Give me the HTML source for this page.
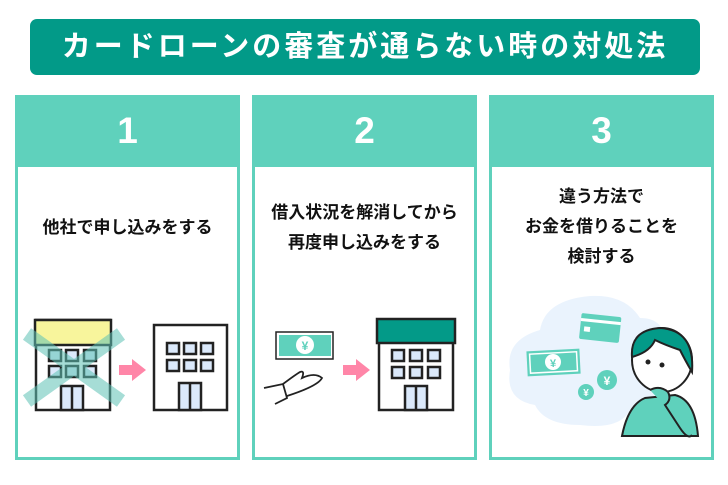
<!DOCTYPE html>
<html><head><meta charset="utf-8"><style>
body{margin:0;width:728px;height:485px;background:#fff;position:relative;overflow:hidden;font-family:"Liberation Sans","Noto Sans CJK JP",sans-serif}
.title{position:absolute;left:30px;top:19px;width:670px;height:56px;background:#029a88;border-radius:7px;color:#fff;font-weight:bold;font-size:29px;text-align:center;line-height:56px;letter-spacing:3px}
.p{position:absolute;top:95px;width:219px;height:362px;border:3px solid #5fd1bc;border-top:none}
.h{position:absolute;left:-3px;top:0;width:225px;height:72px;background:#5fd1bc;color:#fff;font-weight:bold;font-size:37px;text-align:center;line-height:72px}
.t{position:absolute;left:0;width:219px;text-align:center;font-weight:bold;font-size:17px;line-height:30px;color:#111}
</style></head><body>
<div class="title">カードローンの審査が通らない時の対処法</div>
<div class="p" style="left:15px"><div class="h">1</div><div class="t" style="top:118px">他社で申し込みをする</div></div>
<div class="p" style="left:252px"><div class="h">2</div><div class="t" style="top:103px">借入状況を解消してから<br>再度申し込みをする</div></div>
<div class="p" style="left:489px"><div class="h">3</div><div class="t" style="top:87px">違う方法で<br>お金を借りることを<br>検討する</div></div>
<svg width="728" height="485" style="position:absolute;left:0;top:0">
<g stroke="#222" stroke-width="2.5" fill="#dbe9fb">
<rect x="36" y="320" width="74" height="90" fill="#fff"/>
<rect x="35" y="320" width="76" height="25" fill="#f8f59c"/>
<g><rect x="49" y="350" width="12" height="11"/><rect x="66" y="350" width="12" height="11"/><rect x="84" y="350" width="12" height="11"/><rect x="49" y="366" width="12" height="11"/><rect x="66" y="366" width="12" height="11"/><rect x="84" y="366" width="12" height="11"/></g>
<rect x="61" y="386" width="22" height="24"/><line x1="72" y1="386" x2="72" y2="410"/>
<rect x="154" y="325" width="73" height="85" fill="#fff"/>
<g><rect x="167" y="343" width="12" height="11"/><rect x="184" y="343" width="12" height="11"/><rect x="201" y="343" width="12" height="11"/><rect x="167" y="360" width="12" height="11"/><rect x="184" y="360" width="12" height="11"/><rect x="201" y="360" width="12" height="11"/></g>
<rect x="179" y="383" width="22" height="27"/><line x1="190" y1="383" x2="190" y2="410"/>
<rect x="379" y="320" width="74" height="90" fill="#fff"/>
<rect x="377" y="319" width="78" height="24" fill="#039a88"/>
<g><rect x="392" y="350" width="12" height="11"/><rect x="410" y="350" width="12" height="11"/><rect x="428" y="350" width="12" height="11"/><rect x="392" y="367" width="12" height="11"/><rect x="410" y="367" width="12" height="11"/><rect x="428" y="367" width="12" height="11"/></g>
<rect x="405" y="386" width="22" height="24"/><line x1="416" y1="386" x2="416" y2="410"/>
</g>
<g stroke="#5fc3b6" stroke-width="14" opacity="0.55"><line x1="27" y1="334" x2="121" y2="401"/><line x1="121" y1="334" x2="27" y2="401"/></g>
<polygon points="119,365 132,365 132,359 146,370 132,381 132,375 119,375" fill="#ff86a8"/>
<polygon points="343,365 356,365 356,359 370,370 356,381 356,375 343,375" fill="#ff86a8"/>
<rect x="276" y="332" width="57" height="27" fill="#fff" stroke="#222" stroke-width="1.5"/>
<rect x="279" y="335" width="52" height="21" fill="#5fd1bc"/>
<circle cx="305" cy="345" r="9" fill="#fff"/><text x="305" y="350" font-size="12" font-weight="bold" fill="#5fd1bc" text-anchor="middle">¥</text>
<path d="M264 388 L283 384 L287 398 L275 404 M283 384 Q295 375 300 372 Q305 370 302 378 Q315 372 322 378 Q318 386 287 396" fill="none" stroke="#222" stroke-width="1.8"/>
<path d="M540 330 Q545 300 590 296 Q625 294 640 318 Q668 318 665 350 Q670 400 630 410 Q620 430 580 425 Q545 425 535 405 Q505 400 510 370 Q505 340 540 330Z" fill="#eaf3fd"/>
<g transform="rotate(6 600 330)"><rect x="580" y="315" width="40" height="26" rx="2" fill="#5fd1bc"/><rect x="580" y="320" width="40" height="3" fill="#fff"/><rect x="584" y="328" width="6" height="5" fill="#fff"/></g>
<g transform="rotate(-3 553 362)"><rect x="527" y="350" width="53" height="25" fill="#5fd1bc"/><rect x="530" y="353" width="47" height="19" fill="none" stroke="#fff" stroke-width="1.5"/><circle cx="553" cy="362" r="8" fill="#fff"/><text x="553" y="367" font-size="11" font-weight="bold" fill="#5fd1bc" text-anchor="middle">¥</text></g>
<circle cx="607" cy="380" r="10" fill="#5fd1bc"/><text x="607" y="385" font-size="12" font-weight="bold" fill="#fff" text-anchor="middle">¥</text>
<circle cx="586" cy="392" r="8" fill="#5fd1bc"/><text x="586" y="396" font-size="10" font-weight="bold" fill="#fff" text-anchor="middle">¥</text>
<path d="M622 436 Q628 405 645 398 L675 395 Q695 400 698 436Z" fill="#5fd1bc" stroke="#222" stroke-width="2"/>
<ellipse cx="662" cy="360" rx="30" ry="32" fill="#fff" stroke="#222" stroke-width="2"/>
<path d="M632 357 Q630 330 660 328 Q695 330 692 372 Q685 360 680 350 Q665 345 655 340 Q650 352 632 357Z" fill="#039a88" stroke="#222" stroke-width="2"/>
<circle cx="648" cy="362" r="2.5" fill="#222"/><circle cx="662" cy="365" r="2.5" fill="#222"/>
<path d="M650 390 Q660 385 668 392 Q672 400 665 405 L680 428 Q688 440 692 435" fill="#5fd1bc" stroke="#222" stroke-width="2"/>
</svg>
</body></html>
